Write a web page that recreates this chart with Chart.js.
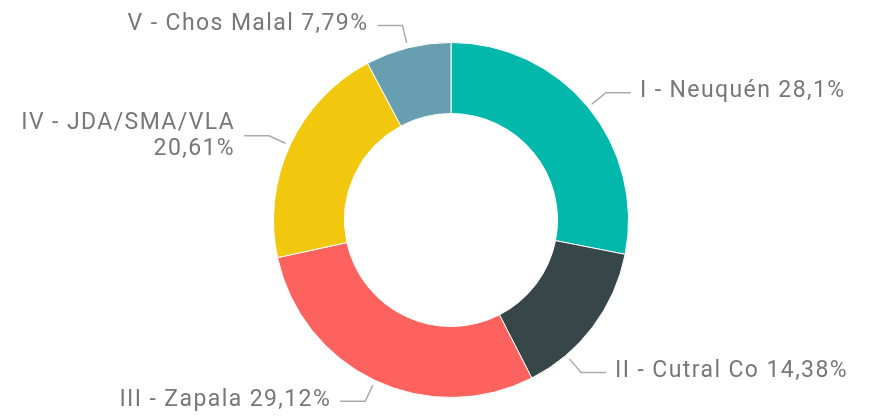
<!DOCTYPE html>
<html>
<head>
<meta charset="utf-8">
<script src="https://cdn.jsdelivr.net/npm/chart.js@4/dist/chart.umd.min.js"></script>
<style>
  html, body { margin: 0; padding: 0; background: #fff; }
</style>
</head>
<body>
<canvas id="regions-chart" width="871" height="416"></canvas>
<script>
const regions = ['I - Neuquén', 'II - Cutral Co', 'III - Zapala', 'IV - JDA/SMA/VLA', 'V - Chos Malal'];
const shares = [28.1, 14.38, 29.12, 20.61, 7.79];
const sliceColors = ['#01B8AA', '#374649', '#FD625E', '#F2C80F', '#689FB0'];

const pct = v => String(v).replace('.', ',') + '%';

// etiquetas con línea guía, estilo Power BI
const leaderLabels = {
    id: 'leaderLabels',
    afterDatasetsDraw(chart, args, opts) {
        const ctx = chart.ctx;
        const meta = chart.getDatasetMeta(0);
        ctx.save();
        ctx.font = opts.font;
        if ('letterSpacing' in ctx) ctx.letterSpacing = opts.spacing;
        ctx.textBaseline = 'middle';
        meta.data.forEach((arc, i) => {
            const p = arc.getProps(['x', 'y', 'startAngle', 'endAngle', 'outerRadius'], true);
            const mid = (p.startAngle + p.endAngle) / 2 + (opts.shift[i] || 0) * Math.PI / 180;
            const cos = Math.cos(mid), sin = Math.sin(mid);
            const r1 = p.outerRadius + 5, r2 = p.outerRadius + 23;
            const x1 = p.x + cos * r1, y1 = p.y + sin * r1;
            const x2 = p.x + cos * r2, y2 = p.y + sin * r2;
            const right = cos >= 0;
            const x3 = x2 + (right ? 25 : -25);

            ctx.strokeStyle = opts.lineColor;
            ctx.lineWidth = 1.5;
            ctx.beginPath();
            ctx.moveTo(x1, y1);
            ctx.lineTo(x2, y2);
            ctx.lineTo(x3, y2);
            ctx.stroke();

            const tx = x3 + (right ? 9 : -9);
            const text = chart.data.labels[i] + ' ' + pct(chart.data.datasets[0].data[i]);
            ctx.fillStyle = opts.color;
            ctx.textAlign = right ? 'left' : 'right';
            const w = ctx.measureText(text).width;
            const fits = right ? tx + w < chart.width - 4 : tx - w > 4;
            if (fits) {
                ctx.fillText(text, tx, y2 - 1);
            } else {
                ctx.fillText(chart.data.labels[i], tx, y2 - 12);
                ctx.fillText(pct(chart.data.datasets[0].data[i]), tx, y2 + 14);
            }
        });
        ctx.restore();
    }
};

new Chart(document.getElementById('regions-chart').getContext('2d'), {
    type: 'doughnut',
    data: {
        labels: regions,
        datasets: [{
            data: shares,
            backgroundColor: sliceColors,
            borderColor: '#ffffff',
            borderWidth: 1
        }]
    },
    options: {
        responsive: false,
        animation: false,
        cutout: '60%',
        layout: { padding: { top: 42, bottom: 18, left: 272, right: 241 } },
        plugins: {
            legend: { display: false },
            tooltip: { enabled: false },
            leaderLabels: {
                font: '23px Roboto',
                spacing: '1.4px',
                color: '#777777',
                lineColor: '#AAAAAA',
                shift: [0, 12.5, 0, 0, 0]
            }
        }
    },
    plugins: [leaderLabels]
});
</script>
</body>
</html>
